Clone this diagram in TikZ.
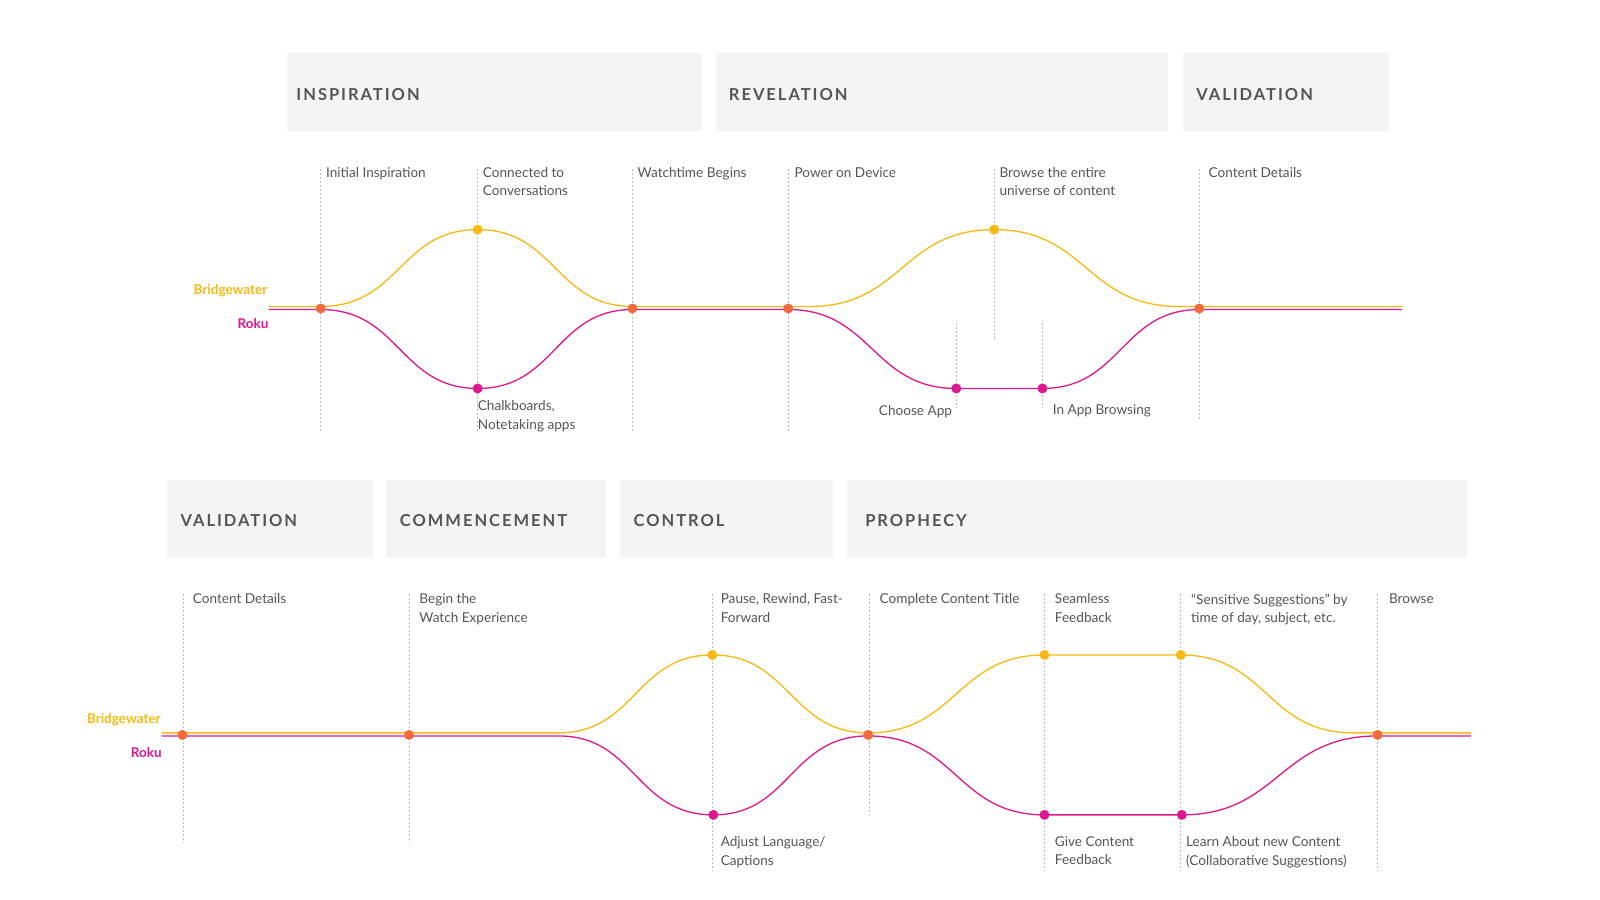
\documentclass[tikz,border=0pt]{standalone}
\usepackage{fontspec}
\setmainfont{Lato}
\newfontfamily\hdfont[LetterSpace=12]{Lato Bold}
\begin{document}
\begin{tikzpicture}[x=1.025pt,y=-1.025pt,
  hdr/.style={fill=hbg,draw=none},
  htxt/.style={anchor=west,text=htc,font=\hdfont\fontsize{16.5}{18}\selectfont,inner sep=0},
  lbl/.style={anchor=north west,text=ltc,font=\fontsize{13.6}{18.4}\selectfont,inner sep=0,align=left},
  vl/.style={draw=vlc,dash pattern=on 2pt off 2pt,line width=0.8pt},
  yl/.style={draw=yc,line width=1.3pt},
  ml/.style={draw=mc,line width=1.3pt},
  jd/.style={circle,fill=jc,minimum size=10pt,inner sep=0},
  yd/.style={circle,fill=yc,minimum size=10pt,inner sep=0},
  md/.style={circle,fill=mc,minimum size=10pt,inner sep=0},
  bw/.style={anchor=east,text=yc,font=\bfseries\fontsize{13.5}{15}\selectfont,inner sep=0},
  rk/.style={anchor=east,text=mc,font=\bfseries\fontsize{13.5}{15}\selectfont,inner sep=0}]
\definecolor{hbg}{HTML}{F4F4F4}\definecolor{htc}{HTML}{555555}
\definecolor{ltc}{HTML}{555555}\definecolor{vlc}{HTML}{BBBBBB}
\definecolor{yc}{HTML}{F9B912}\definecolor{mc}{HTML}{DE1690}\definecolor{jc}{HTML}{F26A3E}
\useasboundingbox (0,0) rectangle (1561,878);
% headers top
\fill[hdr] (280,52) rectangle (685,128); \node[htxt] (h1) at (289,92) {INSPIRATION};
\fill[hdr] (699,52) rectangle (1140,128); \node[htxt] (h2) at (711,92) {REVELATION};
\fill[hdr] (1154,52) rectangle (1355,128); \node[htxt] (h3) at (1167,92) {VALIDATION};
% headers bottom
\fill[hdr] (163,468) rectangle (364,544); \node[htxt] (h4) at (176,508) {VALIDATION};
\fill[hdr] (377,468) rectangle (591,544); \node[htxt] (h5) at (390,508) {COMMENCEMENT};
\fill[hdr] (605,468) rectangle (813,544); \node[htxt] (h6) at (618,508) {CONTROL};
\fill[hdr] (826,468) rectangle (1431,544); \node[htxt] (h7) at (844,508) {PROPHECY};
% vertical guides top
\foreach \x/\a/\b in {313/165/422,466/165/422,617/165/422,769/165/422,970/165/332,933/315/398,1017/315/398,1170/165/410}
  \draw[vl] (\x,\a) -- (\x,\b);
% vertical guides bottom
\foreach \x/\a/\b in {179/580/822,399/580/822,695/580/850,848/580/795,1019/580/850,1152/580/850,1344/580/850}
  \draw[vl] (\x,\a) -- (\x,\b);
% top lines
\draw[yl] (262,299) -- (313,299) .. controls (390,299) and (390,224) .. (466,224)
  .. controls (542,224) and (542,299) .. (617,299) -- (790,299)
  .. controls (880,299) and (880,224) .. (970,224)
  .. controls (1060,224) and (1060,299) .. (1150,299) -- (1368,299);
\draw[ml] (262,302) -- (313,302) .. controls (390,302) and (390,379) .. (466,379)
  .. controls (542,379) and (542,302) .. (617,302) -- (769,302)
  .. controls (851,302) and (851,379) .. (933,379) -- (1017,379)
  .. controls (1094,379) and (1094,302) .. (1170,302) -- (1368,302);
% bottom lines
\draw[yl] (158,715) -- (545,715) .. controls (620,715) and (620,639) .. (695,639)
  .. controls (771,639) and (771,715) .. (847,715)
  .. controls (933,715) and (933,639) .. (1019,639) -- (1152,639)
  .. controls (1236,639) and (1236,715) .. (1320,715) -- (1435,715);
\draw[ml] (158,718) -- (545,718) .. controls (620,718) and (620,795) .. (696,795)
  .. controls (771,795) and (771,718) .. (847,718)
  .. controls (933,718) and (933,795) .. (1019,795) -- (1153,795)
  .. controls (1248,795) and (1248,718) .. (1344,718) -- (1435,718);
% dots top
\node[jd] (j1) at (313,301) {}; \node[jd] (j2) at (617,301) {};
\node[jd] (j3) at (769,301) {}; \node[jd] (j4) at (1170,301) {};
\node[yd] (y1) at (466,224) {}; \node[yd] (y2) at (970,224) {};
\node[md] (m1) at (466,379) {}; \node[md] (m2) at (933,379) {}; \node[md] (m3) at (1017,379) {};
% dots bottom
\node[jd] (j5) at (178,717) {}; \node[jd] (j6) at (399,717) {};
\node[jd] (j7) at (847,717) {}; \node[jd] (j8) at (1344,717) {};
\node[yd] (y3) at (695,639) {}; \node[yd] (y4) at (1019,639) {}; \node[yd] (y5) at (1152,639) {};
\node[md] (m4) at (696,795) {}; \node[md] (m5) at (1019,795) {}; \node[md] (m6) at (1153,795) {};
% series labels
\node[bw] (bw1) at (261,284) {Bridgewater}; \node[rk] (rk1) at (262,316) {Roku};
\node[bw] (bw2) at (157,702) {Bridgewater}; \node[rk] (rk2) at (158,734) {Roku};
% top labels
\node[lbl] (t1) at (318,163) {Initial Inspiration};
\node[lbl] (t2) at (471,163) {Connected to\\Conversations};
\node[lbl] (t3) at (622,163) {Watchtime Begins};
\node[lbl] (t4) at (775,163) {Power on Device};
\node[lbl] (t5) at (975,163) {Browse the entire\\universe of content};
\node[lbl] (t6) at (1179,163) {Content Details};
\node[lbl] (t7) at (466,391) {Chalkboards,\\Notetaking apps};
\node[lbl,anchor=north east] (t8) at (929,395) {Choose App};
\node[lbl] (t9) at (1027,395) {In App Browsing};
% bottom labels
\node[lbl] (b1) at (188,579) {Content Details};
\node[lbl] (b2) at (409,579) {Begin the\\Watch Experience};
\node[lbl] (b3) at (703,579) {Pause, Rewind, Fast-\\Forward};
\node[lbl] (b4) at (858,579) {Complete Content Title};
\node[lbl] (b5) at (1029,579) {Seamless\\Feedback};
\node[lbl] (b6) at (1162,579) {“Sensitive Suggestions” by\\time of day, subject, etc.};
\node[lbl] (b7) at (1355,579) {Browse};
\node[lbl] (b8) at (703,816) {Adjust Language/\\Captions};
\node[lbl] (b9) at (1029,816) {Give Content\\Feedback};
\node[lbl] (b10) at (1157,816) {Learn About new Content\\(Collaborative Suggestions)};
\end{tikzpicture}
\end{document}
